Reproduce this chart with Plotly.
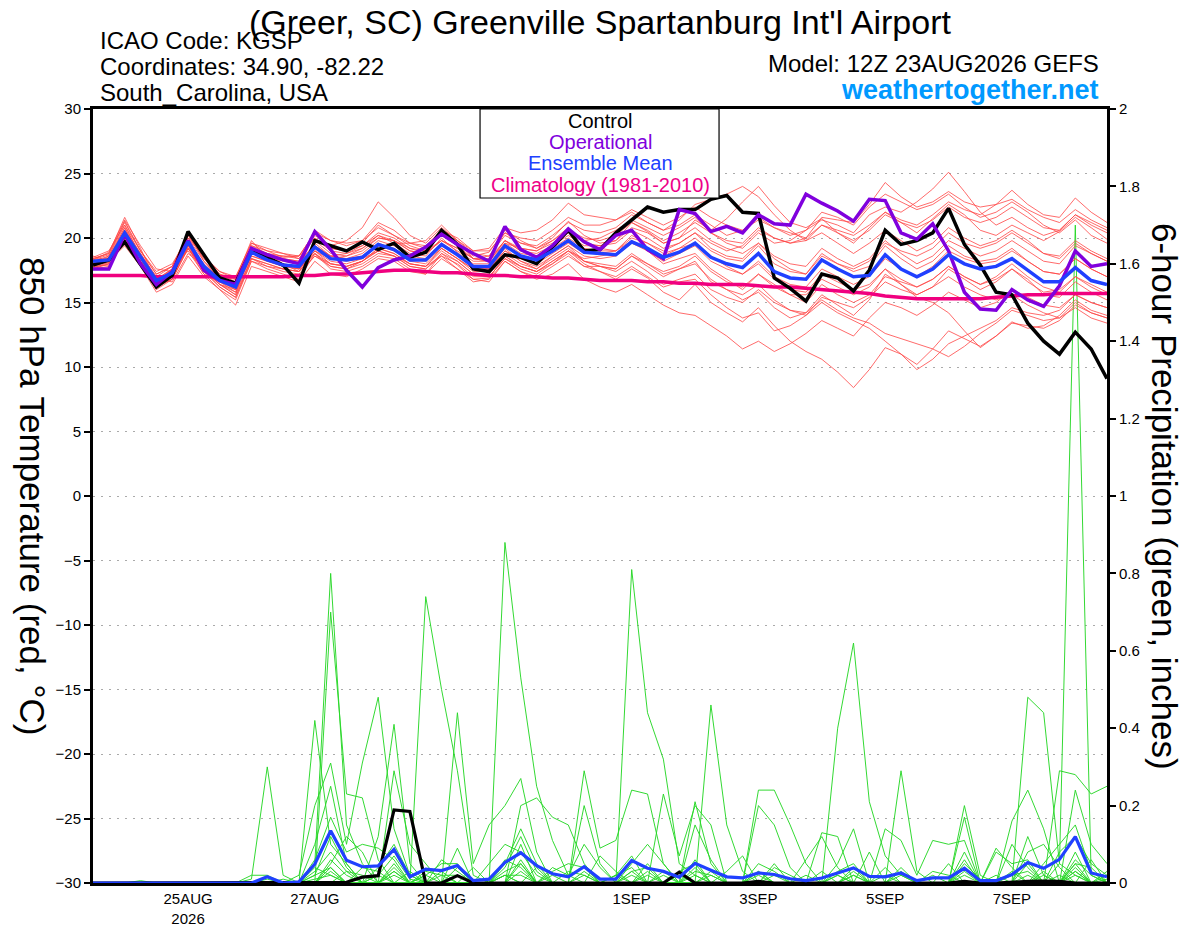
import plotly.graph_objects as go
import pandas as pd

# 6-hourly forecast times (GEFS 12Z 23AUG2026 run, 0-384 h)
times = pd.date_range("2026-08-23 12:00", periods=65, freq="6h")

tick_vals = ["2026-08-25", "2026-08-27", "2026-08-29", "2026-09-01",
             "2026-09-03", "2026-09-05", "2026-09-07"]
tick_text = ["25AUG<br>2026", "27AUG", "29AUG", "1SEP", "3SEP", "5SEP", "7SEP"]

# ---------------- 850 hPa temperature (deg C) ----------------
control_t = [17.9, 18.3, 19.7, 17.9, 16.2, 17.1, 20.5, 18.7, 16.9, 16.5,
             19.1, 18.5, 17.9, 16.5, 19.8, 19.4, 19.0, 19.7, 19.1, 19.6,
             18.5, 18.9, 20.6, 19.5, 17.6, 17.4, 18.7, 18.5, 18.0, 19.3,
             20.6, 19.0, 19.1, 20.4, 21.4, 22.4, 22.0, 22.2, 22.2, 23.0,
             23.3, 22.0, 21.9, 16.9, 16.1, 15.1, 17.2, 16.9, 15.9, 17.5,
             20.6, 19.5, 19.8, 20.4, 22.3, 19.5, 17.9, 15.8, 15.6, 13.4,
             12.0, 11.0, 12.7, 11.4, 9.1]
oper_t = [17.6, 17.6, 20.3, 18.0, 16.4, 17.4, 19.8, 17.5, 16.7, 16.4,
          19.2, 18.7, 18.3, 18.0, 20.5, 19.1, 17.5, 16.2, 17.7, 18.3,
          18.6, 19.3, 20.3, 19.5, 18.8, 18.2, 20.9, 19.1, 18.5, 19.4,
          20.7, 19.7, 19.1, 20.2, 20.6, 19.1, 18.4, 22.2, 21.9, 20.5,
          20.9, 20.4, 21.8, 21.1, 21.0, 23.4, 22.7, 22.1, 21.3, 23.0,
          22.9, 20.4, 19.9, 21.1, 19.0, 15.8, 14.5, 14.4, 16.0, 15.2,
          14.7, 16.3, 19.0, 17.8, 18.0]
mean_t = [18.2, 18.3, 20.4, 18.5, 16.7, 17.3, 19.7, 17.8, 16.7, 16.2,
          18.9, 18.3, 17.9, 17.8, 19.3, 18.4, 18.3, 18.5, 19.5, 19.1,
          18.3, 18.3, 19.5, 18.7, 17.8, 17.8, 19.4, 18.6, 18.3, 19.0,
          19.8, 18.9, 18.8, 18.7, 19.7, 19.2, 18.5, 18.9, 19.6, 18.5,
          18.0, 17.7, 18.8, 17.4, 16.9, 16.8, 18.3, 17.6, 17.0, 17.1,
          18.7, 17.6, 17.0, 17.6, 18.7, 18.0, 17.6, 17.8, 18.4, 17.5,
          16.6, 16.6, 17.7, 16.7, 16.4]
clim_t = [17.1, 17.1, 17.1, 17.1, 17.0, 17.0, 17.0, 17.0, 17.0, 17.0,
          17.0, 17.0, 17.0, 17.1, 17.1, 17.2, 17.2, 17.3, 17.4, 17.5,
          17.5, 17.4, 17.3, 17.3, 17.2, 17.1, 17.1, 17.0, 17.0, 16.9,
          16.9, 16.8, 16.7, 16.7, 16.7, 16.6, 16.6, 16.5, 16.5, 16.4,
          16.4, 16.4, 16.3, 16.2, 16.2, 16.1, 16.0, 15.9, 15.8, 15.7,
          15.5, 15.4, 15.3, 15.3, 15.3, 15.3, 15.3, 15.4, 15.5, 15.6,
          15.6, 15.7, 15.7, 15.7, 15.7]

t_m01 = [18.0, 18.6, 21.3, 19.0, 17.2, 17.8, 20.2, 18.4, 17.2, 16.9,
         19.6, 19.0, 18.5, 18.6, 20.4, 19.2, 19.0, 19.6, 21.0, 20.2,
         19.4, 19.0, 20.3, 19.5, 18.6, 18.9, 20.6, 19.8, 19.2, 20.0,
         21.3, 20.2, 19.6, 19.8, 21.2, 20.5, 19.6, 20.0, 21.4, 20.6,
         21.5, 22.8, 24.0, 22.5, 21.2, 20.8, 21.5, 20.4, 19.6, 20.8,
         22.0, 21.2, 20.4, 21.5, 22.6, 21.8, 20.6, 20.2, 21.0, 20.4,
         19.8, 20.5, 21.6, 20.8, 19.9]
t_m02 = [17.8, 17.9, 19.8, 18.0, 16.0, 16.8, 19.2, 17.2, 16.0, 15.2,
         18.2, 17.6, 17.2, 16.8, 18.8, 17.6, 17.4, 17.8, 18.6, 18.4,
         17.6, 17.2, 18.8, 17.9, 16.8, 16.9, 18.6, 17.8, 17.4, 18.2,
         19.0, 18.0, 17.4, 16.8, 17.6, 16.9, 15.8, 15.2, 16.4, 15.0,
         14.2, 13.5, 14.6, 13.2, 12.0, 11.2, 10.6, 9.6, 8.4, 9.8,
         11.5, 11.0, 10.2, 11.4, 12.8, 12.2, 11.6, 12.4, 13.5, 13.0,
         13.2, 14.0, 15.2, 14.4, 14.0]
t_m03 = [18.4, 18.8, 21.6, 19.2, 16.6, 17.0, 19.6, 17.6, 16.4, 15.6,
         19.4, 18.8, 18.0, 17.4, 19.8, 18.8, 18.6, 19.2, 20.2, 19.6,
         18.8, 18.6, 20.0, 18.9, 17.8, 17.6, 19.2, 18.2, 17.6, 18.6,
         19.4, 18.2, 18.0, 17.8, 18.8, 18.0, 17.2, 17.6, 18.2, 16.6,
         16.0, 15.2, 15.8, 14.6, 13.8, 14.2, 15.6, 14.8, 14.0, 15.2,
         17.2, 16.4, 15.6, 16.2, 17.6, 16.8, 16.0, 16.6, 17.6, 16.8,
         15.6, 15.4, 16.6, 15.8, 15.2]
t_m04 = [17.6, 18.0, 20.6, 18.6, 16.8, 17.6, 20.0, 18.2, 17.0, 16.4,
         19.0, 18.6, 18.4, 18.2, 19.4, 18.6, 18.8, 19.2, 20.0, 19.8,
         19.2, 19.0, 19.8, 19.2, 18.4, 18.2, 19.8, 19.2, 19.0, 19.6,
         20.4, 19.8, 20.0, 20.6, 21.4, 20.8, 20.2, 20.8, 21.6, 20.4,
         19.6, 19.2, 20.4, 19.6, 19.8, 20.6, 21.4, 21.0, 20.4, 21.8,
         22.4, 22.0, 22.8, 23.8, 25.1, 23.6, 22.0, 21.0, 21.6, 20.8,
         20.2, 20.6, 21.8, 21.0, 20.4]
t_m05 = [18.2, 18.4, 20.8, 18.4, 16.4, 17.4, 19.8, 17.6, 16.6, 15.8,
         18.8, 18.6, 18.6, 18.4, 20.2, 19.4, 19.8, 20.8, 22.8, 21.6,
         20.2, 19.6, 20.8, 19.8, 18.8, 18.6, 20.4, 19.6, 19.4, 20.2,
         21.2, 20.6, 20.4, 20.8, 21.8, 21.2, 20.6, 21.4, 22.6, 23.0,
         23.4, 24.0, 23.2, 21.8, 20.6, 19.8, 20.4, 19.6, 18.8, 19.6,
         20.6, 19.8, 19.0, 19.6, 20.8, 20.0, 19.4, 19.8, 20.6, 19.8,
         18.8, 18.6, 19.8, 19.0, 18.4]
t_m06 = [17.8, 18.2, 20.2, 18.2, 16.2, 16.8, 19.4, 17.4, 16.2, 15.4,
         18.4, 17.8, 17.4, 17.2, 18.6, 17.8, 17.6, 18.0, 18.8, 18.6,
         18.0, 17.8, 18.6, 17.6, 16.8, 16.6, 18.2, 17.4, 16.8, 17.2,
         18.0, 16.8, 16.2, 15.8, 16.4, 15.6, 14.8, 14.2, 14.0, 13.2,
         12.4, 11.4, 12.0, 11.2, 11.8, 12.6, 13.6, 13.0, 12.4, 13.8,
         15.0, 14.6, 14.0, 14.8, 15.8, 15.2, 14.6, 15.0, 16.0, 15.4,
         14.8, 14.6, 15.6, 15.0, 14.6]
t_m07 = [18.0, 18.4, 20.6, 18.8, 17.0, 17.2, 19.6, 18.0, 16.9, 16.4,
         19.2, 18.6, 18.2, 18.0, 19.6, 18.6, 18.4, 18.8, 19.8, 19.4,
         18.6, 18.4, 19.6, 18.8, 18.0, 18.0, 19.6, 18.8, 18.6, 19.2,
         20.0, 19.2, 19.0, 19.0, 20.2, 19.6, 18.8, 19.2, 20.0, 19.0,
         18.4, 18.2, 19.4, 18.0, 17.4, 17.2, 18.8, 18.0, 17.4, 17.8,
         19.4, 18.4, 17.6, 18.2, 19.4, 18.6, 18.2, 18.4, 19.2, 18.2,
         17.4, 17.2, 18.4, 17.6, 17.0]
t_m08 = [18.6, 18.2, 19.6, 18.0, 16.8, 16.6, 18.8, 17.8, 17.0, 16.8,
         19.8, 18.4, 17.8, 17.6, 19.0, 18.0, 17.8, 18.2, 19.0, 19.6,
         19.6, 19.8, 21.0, 19.8, 18.4, 18.2, 19.8, 19.0, 18.6, 19.4,
         20.6, 19.6, 19.2, 19.0, 19.8, 19.0, 18.0, 18.4, 18.8, 17.6,
         16.8, 16.0, 17.2, 16.4, 15.6, 15.0, 16.4, 15.6, 15.0, 15.6,
         17.0, 16.6, 16.2, 16.8, 17.8, 17.0, 16.4, 16.8, 17.6, 16.6,
         15.8, 16.0, 17.0, 16.4, 15.8]
t_m09 = [18.2, 18.6, 21.0, 18.6, 16.6, 17.6, 20.4, 18.2, 16.8, 16.0,
         18.6, 18.2, 17.8, 17.6, 19.0, 18.4, 18.6, 19.0, 20.0, 19.8,
         19.0, 18.8, 20.4, 19.8, 19.0, 19.2, 20.8, 20.4, 20.6, 21.4,
         22.7, 21.8, 21.6, 21.4, 22.0, 21.2, 20.6, 21.0, 21.8, 21.0,
         20.2, 20.6, 21.6, 20.8, 20.2, 20.6, 22.0, 21.6, 21.0, 22.4,
         23.4, 22.8, 22.2, 22.6, 23.4, 22.4, 21.6, 22.0, 22.8, 22.0,
         21.0, 20.4, 21.4, 20.2, 19.6]
t_m10 = [17.6, 17.8, 20.2, 18.4, 16.4, 16.8, 19.2, 17.6, 16.4, 15.6,
         18.4, 18.0, 17.6, 17.4, 18.8, 18.0, 17.8, 18.2, 19.0, 18.6,
         17.8, 17.6, 18.8, 18.2, 17.2, 17.2, 18.6, 17.8, 17.4, 18.2,
         19.0, 18.2, 17.8, 17.6, 18.6, 17.8, 17.0, 17.6, 18.0, 16.8,
         16.0, 15.6, 16.4, 15.2, 14.4, 14.0, 15.0, 14.2, 13.6, 13.0,
         12.0, 11.0, 9.8, 10.6, 11.8, 12.4, 13.0, 13.6, 14.6, 14.2,
         14.0, 14.4, 15.6, 15.0, 14.6]
t_m11 = [17.9, 18.3, 20.4, 18.4, 16.6, 17.0, 19.4, 17.8, 16.6, 16.0,
         18.6, 18.2, 17.8, 17.8, 19.4, 18.6, 18.4, 18.6, 19.6, 19.2,
         18.4, 18.2, 19.2, 18.4, 17.6, 17.6, 19.0, 18.4, 18.0, 18.8,
         19.6, 18.8, 18.8, 19.0, 20.0, 19.6, 19.0, 19.6, 20.4, 19.6,
         19.0, 19.4, 20.6, 20.0, 19.6, 19.8, 21.0, 20.6, 20.2, 21.0,
         22.0, 21.4, 21.0, 21.8, 22.8, 22.2, 21.8, 22.6, 23.7, 22.6,
         21.8, 21.6, 23.1, 22.0, 21.2]
t_m12 = [18.1, 18.5, 20.8, 18.8, 16.8, 17.4, 19.8, 17.6, 16.4, 16.0,
         19.0, 18.4, 18.0, 17.8, 19.2, 18.4, 18.2, 18.4, 19.4, 19.0,
         18.2, 18.0, 19.2, 18.4, 17.4, 17.4, 18.8, 18.0, 17.6, 18.4,
         19.2, 18.2, 17.8, 17.4, 18.2, 17.4, 16.4, 16.8, 17.2, 16.0,
         15.4, 15.0, 16.0, 15.0, 14.4, 14.2, 15.2, 14.4, 13.8, 13.4,
         12.6, 12.2, 11.8, 11.4, 10.8, 11.6, 12.6, 13.4, 14.4, 14.0,
         13.6, 13.8, 15.0, 14.2, 13.8]
t_m13 = [18.3, 18.7, 20.0, 18.2, 16.8, 17.6, 19.0, 17.2, 16.6, 16.2,
         18.8, 18.4, 18.0, 17.6, 18.8, 17.8, 17.6, 18.2, 19.2, 18.8,
         18.0, 17.8, 19.0, 18.2, 17.2, 17.0, 18.4, 17.6, 17.2, 18.0,
         19.0, 18.4, 18.6, 18.8, 19.8, 19.2, 18.6, 19.2, 19.6, 18.6,
         17.8, 17.2, 18.0, 16.8, 16.0, 15.8, 17.2, 16.6, 16.0, 16.4,
         17.6, 16.4, 15.4, 15.0, 14.2, 12.8, 11.5, 12.4, 13.4, 13.2,
         13.0, 13.6, 14.8, 14.2, 13.8]
t_m14 = [17.7, 18.1, 20.4, 18.6, 17.0, 17.8, 20.2, 18.4, 17.4, 16.8,
         19.4, 19.0, 18.8, 18.6, 20.0, 19.0, 18.8, 19.4, 20.4, 20.0,
         19.2, 18.8, 19.8, 19.0, 18.2, 18.2, 19.6, 19.2, 19.0, 19.8,
         20.6, 20.0, 19.8, 20.2, 21.2, 20.6, 19.8, 20.4, 21.2, 20.4,
         19.8, 19.6, 20.8, 20.0, 19.6, 20.0, 21.6, 21.4, 21.2, 22.6,
         24.3, 23.2, 22.4, 22.8, 23.6, 22.8, 22.4, 22.6, 23.0, 22.2,
         21.6, 21.2, 22.2, 21.4, 20.8]
t_m15 = [18.0, 18.2, 19.4, 17.8, 15.8, 16.4, 18.6, 17.0, 16.0, 14.8,
         17.8, 17.4, 17.0, 16.6, 18.2, 17.2, 17.0, 17.6, 18.4, 18.2,
         17.4, 17.2, 18.4, 17.6, 16.6, 16.8, 18.2, 17.4, 17.0, 17.8,
         18.6, 17.8, 17.8, 17.6, 18.6, 18.0, 17.4, 17.8, 18.6, 17.4,
         16.6, 16.2, 17.2, 16.2, 15.6, 15.6, 16.8, 16.2, 15.6, 16.2,
         17.6, 16.8, 16.2, 16.8, 17.8, 17.0, 16.4, 17.0, 18.0, 17.0,
         16.2, 15.8, 17.0, 16.2, 15.6]
t_m16 = [18.5, 19.0, 21.0, 19.0, 17.4, 18.0, 20.0, 18.6, 17.4, 17.0,
         19.6, 19.2, 18.8, 18.4, 20.0, 19.2, 19.0, 19.4, 20.2, 19.8,
         19.0, 18.8, 19.8, 19.2, 18.4, 18.4, 19.8, 19.0, 18.8, 19.4,
         20.2, 19.4, 19.4, 19.8, 20.8, 20.4, 19.6, 20.0, 20.8, 19.8,
         19.2, 18.8, 19.6, 18.6, 18.0, 17.8, 19.2, 18.4, 17.8, 18.4,
         19.8, 18.8, 18.0, 18.6, 19.8, 19.2, 18.6, 19.0, 19.8, 19.0,
         18.2, 18.0, 19.4, 18.8, 18.2]
t_m17 = [17.7, 18.0, 20.6, 18.6, 16.6, 17.0, 19.4, 17.4, 16.2, 15.4,
         18.2, 17.8, 17.6, 17.4, 19.0, 18.2, 18.0, 18.4, 19.0, 18.6,
         17.8, 17.6, 18.6, 18.0, 17.0, 17.0, 18.4, 17.8, 17.4, 18.0,
         18.8, 17.8, 17.4, 17.0, 17.8, 17.0, 16.2, 16.6, 16.8, 15.6,
         14.6, 13.8, 14.2, 12.8, 13.2, 14.0, 15.4, 15.0, 14.6, 15.4,
         16.6, 16.0, 15.6, 16.2, 17.0, 16.2, 15.6, 15.2, 15.6, 14.8,
         14.2, 13.8, 14.6, 13.8, 13.4]
t_m18 = [18.3, 18.9, 21.4, 19.4, 17.6, 17.4, 19.2, 17.6, 16.8, 16.6,
         19.2, 18.8, 18.4, 18.2, 20.6, 19.8, 19.6, 19.8, 21.2, 20.6,
         19.6, 19.2, 20.2, 19.4, 18.4, 18.6, 20.2, 19.6, 19.2, 19.8,
         20.8, 19.6, 19.4, 19.6, 20.6, 20.0, 19.2, 19.6, 20.4, 19.2,
         18.6, 18.4, 19.6, 18.4, 17.6, 17.2, 18.6, 18.0, 17.6, 18.2,
         19.6, 19.0, 18.6, 19.2, 20.4, 19.6, 19.2, 19.6, 20.4, 19.6,
         18.8, 18.4, 19.6, 18.8, 18.2]
t_m19 = [17.9, 18.1, 19.8, 18.2, 16.8, 17.2, 19.2, 17.4, 16.4, 15.8,
         18.4, 18.0, 17.6, 17.4, 18.6, 18.0, 17.8, 18.2, 19.2, 18.8,
         18.0, 17.8, 19.2, 18.4, 17.6, 17.6, 19.0, 18.2, 17.8, 18.6,
         19.4, 18.6, 18.4, 18.6, 19.6, 19.0, 18.2, 18.8, 19.4, 18.2,
         17.6, 17.2, 18.2, 17.0, 16.4, 16.2, 17.6, 17.0, 16.4, 17.0,
         18.4, 17.6, 17.0, 17.8, 19.0, 18.4, 18.0, 18.2, 19.0, 18.2,
         17.4, 17.2, 18.4, 17.6, 17.0]
t_m20 = [18.4, 18.8, 21.2, 19.0, 17.2, 17.8, 20.4, 18.6, 17.2, 16.6,
         19.2, 18.8, 18.6, 18.6, 20.4, 19.8, 19.4, 19.8, 20.8, 20.2,
         19.6, 19.4, 20.6, 20.0, 19.0, 19.0, 20.4, 20.0, 19.8, 20.6,
         21.6, 21.0, 21.0, 21.4, 22.2, 21.6, 21.0, 21.6, 22.4, 21.6,
         21.0, 20.6, 21.4, 20.8, 20.4, 20.0, 21.0, 20.4, 19.8, 20.6,
         21.8, 21.2, 20.8, 21.4, 22.4, 21.6, 21.2, 21.6, 22.4, 21.6,
         20.8, 20.6, 21.8, 21.2, 20.6]

# ---------------- 6-hour precipitation (inches) ----------------
control_p = [0, 0, 0, 0, 0, 0, 0, 0, 0, 0,
             0, 0, 0, 0, 0, 0, 0.002, 0.015, 0.019, 0.189,
             0.185, 0, 0, 0.019, 0, 0, 0, 0, 0, 0,
             0, 0, 0, 0, 0, 0, 0, 0.028, 0, 0,
             0, 0, 0.004, 0, 0, 0, 0, 0, 0, 0,
             0, 0, 0, 0, 0, 0.004, 0, 0, 0.003, 0.004,
             0.005, 0.004, 0, 0, 0]
mean_p = [0, 0, 0, 0.001, 0, 0, 0, 0, 0, 0,
          0, 0.016, 0, 0.003, 0.049, 0.135, 0.059, 0.042, 0.044, 0.087,
          0.016, 0.036, 0.032, 0.045, 0.006, 0.010, 0.053, 0.078, 0.045, 0.024,
          0.016, 0.042, 0.010, 0.010, 0.058, 0.038, 0.030, 0.015, 0.051, 0.033,
          0.016, 0.013, 0.026, 0.022, 0.011, 0.006, 0.013, 0.026, 0.039, 0.017,
          0.016, 0.026, 0.006, 0.013, 0.013, 0.038, 0.006, 0.006, 0.022, 0.053,
          0.038, 0.061, 0.120, 0.026, 0.016]

p_m01 = [0, 0, 0, 0, 0, 0, 0, 0, 0, 0,
         0.01, 0.30, 0.02, 0, 0.05, 0.80, 0.15, 0.05, 0, 0.03,
         0, 0.02, 0, 0, 0, 0, 0.05, 0.14, 0.05, 0,
         0, 0, 0, 0, 0.81, 0.44, 0.32, 0.05, 0.02, 0,
         0, 0, 0, 0, 0, 0, 0, 0.05, 0.14, 0,
         0, 0, 0, 0, 0, 0.02, 0, 0, 0, 0.12,
         0.02, 0, 0.05, 0, 0]
p_m02 = [0, 0, 0, 0, 0, 0, 0, 0, 0, 0,
         0, 0, 0, 0, 0.42, 0.10, 0.05, 0, 0.12, 0.41,
         0.05, 0, 0.06, 0.03, 0, 0, 0.88, 0.53, 0.25, 0.11,
         0.02, 0, 0, 0.02, 0.07, 0, 0, 0, 0.21, 0.05,
         0, 0, 0, 0, 0, 0, 0, 0.40, 0.62, 0.21,
         0.07, 0.02, 0, 0, 0, 0, 0, 0, 0, 0,
         0, 0.05, 1.70, 0.02, 0]
p_m03 = [0, 0, 0, 0, 0, 0, 0, 0, 0, 0,
         0, 0, 0, 0, 0, 0.70, 0.23, 0.22, 0.06, 0,
         0, 0.74, 0.50, 0.29, 0.02, 0, 0, 0.20, 0.22, 0.17,
         0.15, 0.05, 0, 0, 0, 0.05, 0, 0, 0, 0.46,
         0.15, 0.03, 0, 0, 0, 0, 0, 0, 0, 0,
         0, 0, 0, 0, 0, 0.20, 0.02, 0, 0, 0.48,
         0.44, 0.05, 0.02, 0, 0]
p_m04 = [0, 0, 0, 0, 0, 0, 0, 0, 0, 0,
         0, 0, 0, 0.02, 0.20, 0.31, 0.10, 0.31, 0.48, 0.14,
         0.02, 0, 0, 0.44, 0.05, 0.15, 0.20, 0.27, 0.08, 0,
         0, 0.29, 0.09, 0.11, 0.24, 0.23, 0.05, 0, 0, 0,
         0, 0, 0.24, 0.24, 0.15, 0.05, 0, 0, 0, 0,
         0, 0.29, 0.03, 0, 0, 0, 0, 0, 0, 0,
         0, 0.29, 0.28, 0.23, 0.25]
p_m05 = [0, 0, 0, 0, 0, 0, 0, 0, 0, 0,
         0, 0, 0, 0, 0.10, 0.25, 0.05, 0, 0, 0.29,
         0.10, 0.05, 0, 0, 0, 0, 0, 0.10, 0, 0,
         0, 0.20, 0.05, 0, 0, 0, 0.23, 0.07, 0.20, 0.15,
         0, 0, 0, 0, 0, 0, 0.13, 0.12, 0, 0,
         0, 0, 0, 0, 0, 0.17, 0, 0, 0.16, 0.24,
         0.14, 0, 0.24, 0.10, 0.05]
p_m06 = [0, 0, 0, 0, 0, 0, 0, 0, 0, 0,
         0.02, 0.02, 0, 0, 0.06, 0.17, 0.08, 0.10, 0.09, 0.06,
         0, 0, 0, 0.09, 0, 0, 0.03, 0.05, 0, 0.04,
         0.02, 0.10, 0.04, 0, 0, 0, 0, 0, 0.15, 0.06,
         0, 0, 0.20, 0.15, 0.04, 0, 0, 0, 0, 0,
         0.14, 0.11, 0.02, 0.11, 0.10, 0.11, 0, 0, 0.10, 0.04,
         0, 0, 0.05, 0.04, 0]
p_m07 = [0, 0, 0, 0, 0, 0, 0, 0, 0, 0,
         0, 0, 0, 0, 0, 0.05, 0.12, 0.08, 0, 0.05,
         0, 0, 0.03, 0, 0, 0.05, 0.10, 0.08, 0.02, 0,
         0, 0, 0, 0, 0.05, 0.10, 0.05, 0, 0, 0,
         0.03, 0.07, 0, 0, 0, 0.06, 0.12, 0.04, 0, 0.08,
         0, 0, 0, 0, 0.05, 0, 0, 0.09, 0.04, 0,
         0.05, 0.10, 0.15, 0.03, 0]
p_m08 = [0, 0, 0, 0.006, 0, 0, 0, 0, 0, 0,
         0, 0, 0.01, 0, 0, 0.04, 0, 0, 0.04, 0.10,
         0.02, 0, 0, 0, 0.04, 0, 0.06, 0.04, 0, 0,
         0, 0, 0.07, 0.03, 0, 0, 0, 0.03, 0.05, 0,
         0, 0, 0, 0.04, 0.02, 0, 0, 0, 0.03, 0,
         0.04, 0, 0, 0, 0, 0.08, 0, 0.08, 0.05, 0.06,
         0, 0.08, 0.12, 0.05, 0.02]
p_m09 = [0, 0, 0, 0, 0, 0, 0, 0, 0, 0,
         0, 0, 0, 0, 0.03, 0.08, 0.03, 0, 0, 0,
         0, 0.02, 0.05, 0.05, 0, 0, 0, 0, 0, 0.03,
         0.05, 0.04, 0, 0, 0.03, 0.04, 0, 0, 0.03, 0.02,
         0, 0, 0.05, 0.03, 0, 0, 0, 0.03, 0.05, 0,
         0, 0, 0, 0.03, 0.02, 0, 0, 0, 0, 0.08,
         0.10, 0.04, 0, 0, 0.02]
p_m10 = [0, 0, 0, 0, 0, 0, 0, 0, 0, 0,
         0, 0.01, 0, 0, 0.02, 0.12, 0.04, 0, 0.02, 0.07,
         0.01, 0, 0, 0, 0, 0, 0.04, 0.12, 0.03, 0,
         0, 0, 0, 0.02, 0.04, 0, 0.02, 0, 0, 0,
         0, 0, 0.03, 0, 0, 0, 0.03, 0, 0, 0,
         0, 0.04, 0, 0, 0, 0.05, 0.01, 0, 0, 0,
         0, 0, 0.06, 0.02, 0]
p_m11 = [0, 0, 0, 0, 0, 0, 0, 0, 0, 0,
         0, 0, 0, 0, 0, 0.03, 0, 0.04, 0.03, 0,
         0, 0, 0.02, 0.02, 0, 0, 0, 0.03, 0, 0,
         0, 0.03, 0, 0, 0, 0.03, 0, 0, 0, 0.03,
         0, 0, 0, 0.02, 0, 0, 0, 0, 0.02, 0,
         0, 0, 0, 0, 0, 0.03, 0, 0, 0.02, 0.03,
         0, 0, 0.03, 0, 0.01]
p_m12 = [0, 0, 0, 0, 0, 0, 0, 0, 0, 0,
         0, 0, 0, 0, 0.01, 0.02, 0, 0, 0, 0.02,
         0, 0, 0, 0, 0, 0, 0.02, 0.02, 0, 0,
         0, 0, 0, 0, 0.02, 0, 0, 0, 0.02, 0,
         0, 0, 0, 0, 0, 0, 0, 0.02, 0, 0,
         0, 0.02, 0, 0, 0, 0, 0, 0, 0, 0.02,
         0, 0, 0.02, 0, 0]
p_m13 = [0, 0, 0, 0, 0, 0, 0, 0, 0, 0,
         0, 0, 0, 0, 0, 0.06, 0.02, 0, 0, 0.04,
         0, 0, 0, 0, 0, 0, 0, 0.06, 0, 0,
         0, 0.02, 0, 0, 0, 0.02, 0, 0, 0.04, 0,
         0, 0, 0.02, 0, 0, 0, 0, 0, 0.04, 0,
         0, 0, 0, 0, 0, 0.04, 0, 0, 0, 0,
         0.03, 0, 0.04, 0, 0]
p_m14 = [0, 0, 0, 0, 0, 0, 0, 0, 0, 0,
         0, 0, 0, 0, 0.04, 0.02, 0, 0, 0.02, 0,
         0.03, 0, 0, 0.04, 0, 0, 0.02, 0, 0.04, 0,
         0, 0, 0, 0, 0.03, 0, 0.03, 0, 0, 0.02,
         0, 0, 0, 0.05, 0, 0, 0, 0.02, 0, 0,
         0, 0.03, 0, 0, 0, 0, 0, 0, 0, 0.05,
         0, 0, 0.08, 0, 0.03]
p_m15 = [0, 0, 0, 0, 0, 0, 0, 0, 0, 0,
         0, 0, 0, 0, 0, 0, 0.03, 0.02, 0, 0,
         0, 0.03, 0.02, 0, 0, 0, 0, 0.05, 0, 0,
         0.03, 0.02, 0, 0, 0, 0, 0, 0, 0.06, 0,
         0, 0, 0, 0, 0, 0.02, 0, 0, 0, 0,
         0.02, 0, 0, 0, 0, 0.06, 0, 0, 0.03, 0,
         0, 0.02, 0, 0.06, 0]
p_m16 = [0, 0, 0, 0, 0, 0, 0, 0, 0, 0,
         0, 0, 0, 0, 0.02, 0.04, 0, 0, 0, 0.03,
         0, 0, 0, 0.02, 0, 0, 0.02, 0, 0, 0.02,
         0, 0, 0, 0.02, 0, 0, 0, 0.02, 0, 0,
         0, 0, 0.03, 0, 0, 0, 0, 0, 0.02, 0,
         0, 0, 0, 0.02, 0, 0, 0, 0.02, 0, 0,
         0.02, 0, 0.03, 0, 0]

temp_members = [t_m01, t_m02, t_m03, t_m04, t_m05, t_m06, t_m07, t_m08, t_m09, t_m10,
                t_m11, t_m12, t_m13, t_m14, t_m15, t_m16, t_m17, t_m18, t_m19, t_m20]
precip_members = [p_m01, p_m02, p_m03, p_m04, p_m05, p_m06, p_m07, p_m08,
                  p_m09, p_m10, p_m11, p_m12, p_m13, p_m14, p_m15, p_m16]

FONT = "Liberation Sans, Arial, Helvetica, sans-serif"
C_RED = "rgba(255,70,70,0.8)"
C_GREEN = "rgba(40,215,40,0.95)"
C_PURPLE = "#8000dd"
C_BLUE = "#2040ff"
C_PINK = "#f0007f"

fig = go.Figure()

# precipitation on the primary (lower layer) axis, plotted against right-hand scale
for m in precip_members:
    fig.add_trace(go.Scatter(x=times, y=m, mode="lines", yaxis="y",
                             line=dict(color=C_GREEN, width=1), hoverinfo="skip"))
fig.add_trace(go.Scatter(x=times, y=control_p, mode="lines", yaxis="y",
                         line=dict(color="black", width=3.2)))
fig.add_trace(go.Scatter(x=times, y=mean_p, mode="lines", yaxis="y",
                         line=dict(color=C_BLUE, width=3.2)))

# temperature on the overlaying axis (upper layer), left-hand scale
for m in temp_members:
    fig.add_trace(go.Scatter(x=times, y=m, mode="lines", yaxis="y2",
                             line=dict(color=C_RED, width=1), hoverinfo="skip"))
fig.add_trace(go.Scatter(x=times, y=clim_t, mode="lines", yaxis="y2",
                         line=dict(color=C_PINK, width=3.5)))
fig.add_trace(go.Scatter(x=times, y=control_t, mode="lines", yaxis="y2",
                         line=dict(color="black", width=3.5)))
fig.add_trace(go.Scatter(x=times, y=oper_t, mode="lines", yaxis="y2",
                         line=dict(color=C_PURPLE, width=3.5)))
fig.add_trace(go.Scatter(x=times, y=mean_t, mode="lines", yaxis="y2",
                         line=dict(color=C_BLUE, width=3.5)))

annotations = [
    dict(text="(Greer, SC) Greenville Spartanburg Int'l Airport", x=0.5, y=1.1395,
         xanchor="center", yanchor="top", font=dict(size=34, color="black")),
    dict(text="ICAO Code: KGSP", x=0.005, y=1.088, xanchor="left", yanchor="middle",
         font=dict(size=24, color="black")),
    dict(text="Coordinates: 34.90, -82.22", x=0.005, y=1.055, xanchor="left",
         yanchor="middle", font=dict(size=24, color="black")),
    dict(text="South_Carolina, USA", x=0.005, y=1.021, xanchor="left", yanchor="middle",
         font=dict(size=24, color="black")),
    dict(text="Model: 12Z 23AUG2026 GEFS", x=0.994, y=1.059, xanchor="right",
         yanchor="middle", font=dict(size=24, color="black")),
    dict(text="<b>weathertogether.net</b>", x=0.994, y=1.025, xanchor="right",
         yanchor="middle", font=dict(size=27, color="#0099ff")),
    dict(text="Control", x=0.5, y=0.9845, xanchor="center", yanchor="middle",
         font=dict(size=20, color="black")),
    dict(text="Operational", x=0.5, y=0.9574, xanchor="center", yanchor="middle",
         font=dict(size=20, color=C_PURPLE)),
    dict(text="Ensemble Mean", x=0.5, y=0.9302, xanchor="center", yanchor="middle",
         font=dict(size=20, color=C_BLUE)),
    dict(text="Climatology (1981-2010)", x=0.5, y=0.9018, xanchor="center",
         yanchor="middle", font=dict(size=20, color="#ee0088")),
    dict(text="850 hPa Temperature (red, °C)", x=-0.0592, y=0.5, textangle=90,
         xanchor="center", yanchor="middle", font=dict(size=35, color="black")),
    dict(text="6-hour Precipitation (green, inches)", x=1.0572, y=0.5, textangle=90,
         xanchor="center", yanchor="middle", font=dict(size=35, color="black")),
]
for a in annotations:
    a.update(xref="paper", yref="paper", showarrow=False)

# page body has an 8px default margin: shrink the figure by that much so that
# the plotting area lands where it sits in the reference
fig.update_layout(
    width=1192, height=919,
    margin=dict(l=85, r=93, t=101, b=44, autoexpand=False),
    paper_bgcolor="white", plot_bgcolor="white",
    showlegend=False,
    font=dict(family=FONT, color="black"),
    annotations=annotations,
    shapes=[dict(type="rect", xref="paper", yref="paper",
                 x0=0.3817, x1=0.6174, y0=0.885, y1=1.0,
                 line=dict(color="black", width=1.2), fillcolor="white", layer="above")],
    xaxis=dict(
        type="date", automargin=False,
        range=["2026-08-23 12:00", "2026-09-08 12:00"],
        tickmode="array", tickvals=tick_vals, ticktext=tick_text,
        ticks="", showgrid=False, zeroline=False,
        showline=True, linecolor="black", linewidth=3, mirror=True,
        tickfont=dict(size=15, color="black"),
    ),
    yaxis=dict(
        side="right", range=[0, 2], dtick=0.2, tick0=0, automargin=False,
        ticks="outside", ticklen=6, tickwidth=1.5, tickcolor="black",
        showgrid=False, zeroline=False,
        showline=True, linecolor="black", linewidth=3,
        tickfont=dict(size=15, color="black"),
    ),
    yaxis2=dict(
        overlaying="y", side="left", range=[-30, 30], dtick=5, tick0=0,
        automargin=False,
        ticks="outside", ticklen=6, tickwidth=1.5, tickcolor="black",
        showgrid=True, gridcolor="#aaaaaa", griddash="2px,6px", gridwidth=1,
        zeroline=False,
        showline=True, linecolor="black", linewidth=3,
        tickfont=dict(size=15, color="black"),
    ),
)

fig.write_html("out.html")
